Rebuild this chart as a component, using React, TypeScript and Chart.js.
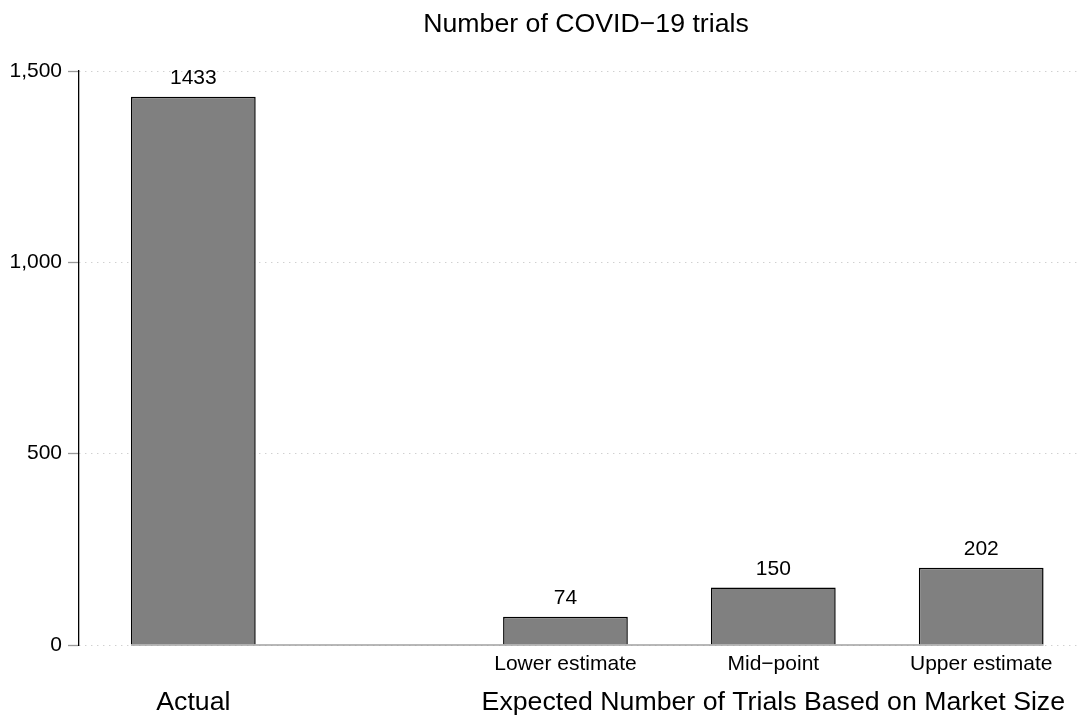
import React, { useEffect, useRef } from "react";
import { Chart, registerables } from "chart.js";

Chart.register(...registerables);

// ---- data ----
const TITLE = "Number of COVID\u221219 trials";
const GROUP_LABELS = ["Actual", "Expected Number of Trials Based on Market Size"];
const BAR_GROUP = [0, 1, 1, 1];
const BAR_LABELS = ["", "Lower estimate", "Mid\u2212point", "Upper estimate"];
const TRIALS = [1433, 74, 150, 202];
const Y_TICKS = [0, 500, 1000, 1500];

// ---- layout (not data): slot of each bar along the x axis, one slot = bar spacing ----
const BAR_SLOTS = [0.55, 2.34, 3.34, 4.34];
const X_MIN = 0;
const X_MAX = 4.82;

const FONT = "'Liberation Sans', Arial, Helvetica, sans-serif";

const annotate = {
  id: "annotate",
  afterDatasetsDraw(chart: any) {
    const { ctx, chartArea } = chart;
    const meta = chart.getDatasetMeta(0);
    const yScale = chart.scales.y;
    const bars = meta.data.map((el: any) => el.getProps(["x", "y", "width", "base"], true));
    if (!bars.length) return;
    ctx.save();
    // zero baseline under the bars
    const y0 = yScale.getPixelForValue(0);
    const first = bars[0];
    const last = bars[bars.length - 1];
    ctx.strokeStyle = "#a0a0a0";
    ctx.lineWidth = 1.5;
    ctx.beginPath();
    ctx.moveTo(first.x - first.width / 2, y0);
    ctx.lineTo(last.x + last.width / 2, y0);
    ctx.stroke();

    ctx.fillStyle = "#000";
    ctx.textAlign = "center";
    ctx.textBaseline = "alphabetic";
    ctx.font = `21px ${FONT}`;
    bars.forEach((b: any, i: number) => {
      ctx.fillText(String(TRIALS[i]), b.x, b.y - 13);
    });
    bars.forEach((b: any, i: number) => {
      ctx.fillText(BAR_LABELS[i], b.x, chartArea.bottom + 25);
    });

    ctx.font = `26.7px ${FONT}`;
    GROUP_LABELS.forEach((g, gi) => {
      const xs = bars.filter((_: any, i: number) => BAR_GROUP[i] === gi).map((b: any) => b.x);
      const cx = (Math.min(...xs) + Math.max(...xs)) / 2;
      ctx.fillText(g, cx, chartArea.bottom + 65);
    });

    ctx.fillText(TITLE, (chartArea.left + chartArea.right) / 2 + 6, chartArea.top - 39);
    ctx.restore();
  },
};

export default function App() {
  const canvasRef = useRef<HTMLCanvasElement | null>(null);

  useEffect(() => {
    if (!canvasRef.current) return;
    const chart = new Chart(canvasRef.current, {
      type: "bar",
      data: {
        datasets: [
          {
            data: TRIALS.map((v, i) => ({ x: BAR_SLOTS[i], y: v })),
            backgroundColor: "#808080",
            borderColor: "#000000",
            borderWidth: 1.5,
            borderSkipped: "start",
            barPercentage: 0.6,
            categoryPercentage: 1,
          } as any,
        ],
      },
      options: {
        animation: false,
        responsive: true,
        maintainAspectRatio: false,
        layout: { padding: { left: 0, right: 5, top: 71, bottom: 72 } },
        plugins: {
          legend: { display: false },
          tooltip: { enabled: false },
          title: { display: false },
        },
        scales: {
          x: {
            type: "linear",
            display: false,
            offset: false,
            grid: { offset: false },
            min: X_MIN,
            max: X_MAX,
            afterBuildTicks: (s: any) => {
              s.ticks = BAR_SLOTS.map((v) => ({ value: v }));
            },
          } as any,
          y: {
            min: 0,
            max: 1500,
            afterBuildTicks: (s: any) => {
              s.ticks = Y_TICKS.map((v) => ({ value: v }));
            },
            afterFit: (s: any) => {
              s.width = 79;
            },
            grid: {
              color: "#bdbdbd",
              lineWidth: 1,
              tickLength: 11,
              tickColor: "#999999",
              tickWidth: 1.3,
              tickBorderDash: [],
            } as any,
            border: { display: true, color: "#000000", width: 1.3, dash: [1, 5] },
            ticks: {
              padding: 6,
              color: "#000000",
              font: { family: FONT, size: 21 },
              callback: (v: any) => Number(v).toLocaleString("en-US"),
            },
          },
        },
      },
      plugins: [annotate],
    });
    return () => chart.destroy();
  }, []);

  return (
    <div style={{ position: "absolute", left: 0, top: 0, width: 1086, height: 717, background: "#fff" }}>
      <canvas ref={canvasRef} />
    </div>
  );
}
